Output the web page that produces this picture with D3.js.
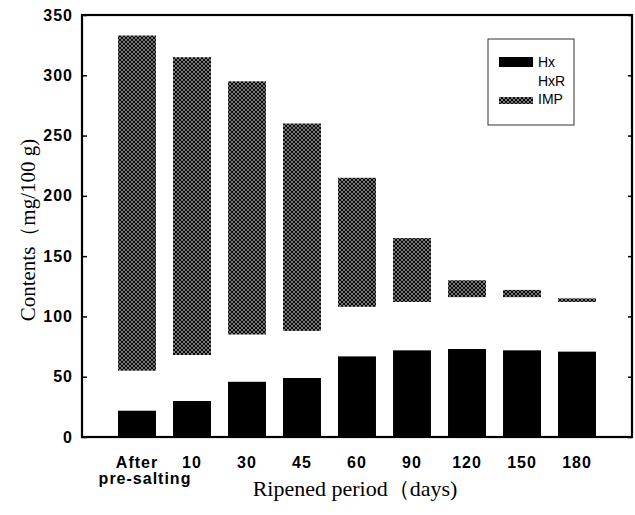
<!DOCTYPE html>
<html>
<head>
    <meta charset="utf-8">
    <title>Contents by ripened period</title>
    <script src="https://d3js.org/d3.v7.min.js"></script>
    <style>
        body {
            margin: 0;
            background: #fff;
        }
        .tick-label {
            font-family: "Liberation Sans", Arial, sans-serif;
            font-weight: bold;
            font-size: 16px;
            letter-spacing: 1px;
        }
        .axis-title {
            font-family: "Liberation Serif", "Times New Roman", serif;
            font-size: 21px;
        }
        .legend text {
            font-family: "Liberation Sans", Arial, sans-serif;
            font-size: 14px;
        }
    </style>
</head>
<body>
    <div id="chart"></div>

    <script>
        // values (mg/100 g)
        const periods = ['After pre-salting', '10', '30', '45', '60', '90', '120', '150', '180'];
        const hx  = [22, 30, 46, 49, 67, 72, 73, 72, 71];
        const hxr = [33, 38, 39, 39, 41, 40, 43, 44, 41];
        const imp = [278, 247, 210, 172, 107, 53, 14, 6, 3];
        const yTicks = [0, 50, 100, 150, 200, 250, 300, 350];
        const seriesNames = ['Hx', 'HxR', 'IMP'];

        const width = 635;
        const height = 515;
        const margin = { top: 15, right: 3, bottom: 78, left: 82 };

        const svg = d3.select('#chart').append('svg')
            .attr('width', width)
            .attr('height', height);

        // halftone cross-hatch used for IMP
        const defs = svg.append('defs');
        const pat = defs.append('pattern')
            .attr('id', 'hatch')
            .attr('patternUnits', 'userSpaceOnUse')
            .attr('width', 4)
            .attr('height', 4);
        pat.append('rect').attr('width', 4).attr('height', 4).attr('fill', '#f2f2f2');
        [[0, 0], [4, 0], [0, 4], [4, 4], [2, 2]].forEach(p => {
            pat.append('circle')
                .attr('cx', p[0]).attr('cy', p[1])
                .attr('r', 1.45)
                .attr('fill', '#0a0a0a');
        });

        const rows = periods.map((p, i) => ({ period: p, Hx: hx[i], HxR: hxr[i], IMP: imp[i] }));
        const stack = d3.stack().keys(seriesNames)(rows);

        const fills = { Hx: '#000', HxR: '#fff', IMP: 'url(#hatch)' };

        const x = d3.scaleBand()
            .domain(periods)
            .range([margin.left, width - margin.right])
            .paddingInner(0.31)
            .paddingOuter(0.655);

        const y = d3.scaleLinear()
            .domain([0, 350])
            .range([height - margin.bottom, margin.top]);

        // bars
        svg.append('g').selectAll('g')
            .data(stack)
            .join('g')
                .attr('fill', d => fills[d.key])
            .selectAll('rect')
            .data(d => d)
            .join('rect')
                .attr('x', d => x(d.data.period))
                .attr('y', d => y(d[1]))
                .attr('width', x.bandwidth())
                .attr('height', d => y(d[0]) - y(d[1]));

        // y axis, ticks pointing inwards
        const yAxisG = svg.append('g')
            .attr('transform', `translate(${margin.left},0)`)
            .call(d3.axisLeft(y).tickValues(yTicks).tickSize(-5).tickPadding(9));
        yAxisG.selectAll('text').attr('class', 'tick-label').attr('fill', '#000');
        yAxisG.selectAll('line').attr('stroke', '#000').attr('stroke-width', 1.5);
        yAxisG.select('.domain').remove();

        // right side ticks
        const rAxisG = svg.append('g')
            .attr('transform', `translate(${width - margin.right},0)`)
            .call(d3.axisRight(y).tickValues(yTicks).tickSize(-4).tickFormat(''));
        rAxisG.selectAll('line').attr('stroke', '#000').attr('stroke-width', 1.5);
        rAxisG.select('.domain').remove();

        // x axis labels
        const xAxisG = svg.append('g')
            .attr('transform', `translate(0,${height - margin.bottom})`)
            .call(d3.axisBottom(x).tickSize(0).tickPadding(20));
        xAxisG.select('.domain').remove();
        xAxisG.selectAll('text').attr('class', 'tick-label').attr('fill', '#000');
        xAxisG.selectAll('.tick text')
            .filter(d => d === 'After pre-salting')
            .text(null)
            .call(t => {
                t.append('tspan').attr('x', 0).text('After');
                t.append('tspan').attr('x', 8).attr('dy', '1em').text('pre-salting');
            });

        // frame
        svg.append('rect')
            .attr('x', margin.left)
            .attr('y', margin.top)
            .attr('width', width - margin.left - margin.right)
            .attr('height', height - margin.top - margin.bottom)
            .attr('fill', 'none')
            .attr('stroke', '#000')
            .attr('stroke-width', 2.2);

        // axis titles
        svg.append('text')
            .attr('class', 'axis-title')
            .attr('x', 355)
            .attr('y', 496)
            .attr('text-anchor', 'middle')
            .style('font-size', '22px')
            .text('Ripened period（days)');

        svg.append('text')
            .attr('class', 'axis-title')
            .attr('transform', 'translate(35,230) rotate(-90)')
            .attr('text-anchor', 'middle')
            .text('Contents（mg/100 g)');

        // legend
        const legend = svg.append('g').attr('class', 'legend');
        legend.append('rect')
            .attr('x', 488).attr('y', 39)
            .attr('width', 86).attr('height', 86)
            .attr('fill', '#fff')
            .attr('stroke', '#333')
            .attr('stroke-width', 1);

        const legendRows = [
            { key: 'Hx', y: 66.5, sy: 57, sh: 10 },
            { key: 'HxR', y: 86, sy: 77, sh: 8 },
            { key: 'IMP', y: 104, sy: 97, sh: 7 }
        ];
        const item = legend.selectAll('.item')
            .data(legendRows)
            .join('g')
            .attr('class', 'item');
        item.append('rect')
            .attr('x', 499)
            .attr('y', d => d.sy)
            .attr('width', 34)
            .attr('height', d => d.sh)
            .attr('fill', d => fills[d.key]);
        item.append('text')
            .attr('x', 538)
            .attr('y', d => d.y)
            .text(d => d.key);
    </script>
</body>
</html>
